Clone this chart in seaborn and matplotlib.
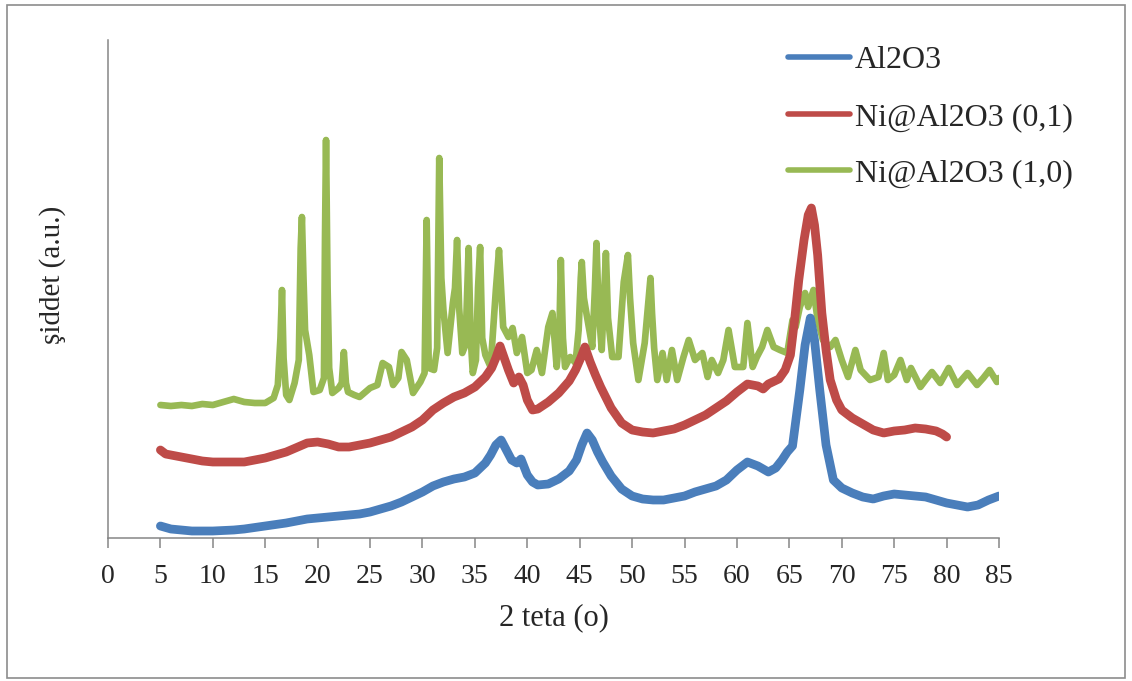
import numpy as np
import pandas as pd
import matplotlib
matplotlib.use("Agg")
import matplotlib.pyplot as plt
from matplotlib.patches import Rectangle
import seaborn as sns

# ---------------- data ----------------
series_names = ["Al2O3", "Ni@Al2O3 (0,1)", "Ni@Al2O3 (1,0)"]

al2o3_x = [5, 6, 7, 8, 10, 12, 13, 15, 17, 19, 20, 22, 24, 25, 26, 27, 28, 29, 30, 31,
           32, 33, 34, 35, 36, 36.5, 37, 37.5, 38, 38.5, 39, 39.4, 40, 40.5, 41, 42, 43, 44,
           44.7, 45.2, 45.7, 46.2, 46.7, 47.2, 48, 49, 50, 51, 52, 53, 54, 55, 56, 57, 58,
           59, 60, 61, 62, 63, 63.7, 64.3, 64.8, 65.3, 66, 66.5, 67.0, 67.4, 67.9, 68.5,
           69.2, 70, 71, 72, 73, 74, 75, 76, 77, 78, 79, 80, 81, 82, 83, 84, 85]
al2o3_y = [12, 9, 8, 7, 7, 8, 9, 12, 15, 19, 20, 22, 24, 26, 29, 32, 36, 41, 46, 52,
           56, 59, 61, 65, 75, 83, 93, 98, 88, 78, 75, 79, 63, 56, 53, 54, 59, 67,
           78, 93, 105, 98, 86, 76, 62, 49, 42, 39, 38, 38, 40, 42, 46, 49, 52,
           58, 68, 76, 72, 66, 70, 78, 86, 92, 148, 193, 220, 198, 148, 93,
           58, 50, 45, 41, 39, 42, 44, 43, 42, 41, 38, 35, 33, 31, 33, 38, 42]

ni01_x = [5, 5.5, 7, 9, 10, 13, 15, 17, 19, 20, 21, 22, 23, 25, 27, 29, 30, 31, 32, 33,
          34, 35, 36, 36.6, 37, 37.4, 37.8, 38.2, 38.7, 39.2, 39.6, 40, 40.5, 41, 42, 43,
          44, 44.6, 45.1, 45.5, 46, 46.5, 47, 48, 49, 50, 51, 52, 53, 54, 55, 56, 57, 58,
          59, 60, 61, 62, 62.5, 63, 64, 64.6, 65.1, 65.5, 65.9, 66.4, 66.8, 67.1, 67.4,
          67.7, 68.1, 68.5, 68.9, 69.5, 70, 71, 72, 73, 74, 75, 76, 77, 78, 79, 79.6, 80]
ni01_y = [88, 84, 81, 77, 76, 76, 80, 86, 95, 96, 94, 91, 91, 95, 101, 111, 118, 128, 135, 141,
          145, 151, 161, 170, 180, 192, 180, 168, 155, 161, 153, 138, 128, 129, 136, 145,
          157, 168, 180, 191, 176, 163, 151, 130, 115, 108, 106, 105, 107, 109, 113, 118, 123, 130,
          137, 146, 154, 152, 149, 154, 159, 168, 183, 218, 258, 298, 323, 330, 313,
          283, 225, 188, 158, 138, 128, 120, 114, 108, 105, 107, 108, 110, 109, 107, 104, 101]

ni10_x = [5, 6, 7, 8, 9, 10, 11, 12, 13, 14, 15, 15.8, 16.2, 16.45, 16.6, 16.75, 17.0, 17.3,
          17.8, 18.2, 18.38, 18.5, 18.65, 18.8, 19.2, 19.6, 20.2, 20.6, 20.7, 20.8, 20.95,
          21.1, 21.4, 22.0, 22.3, 22.5, 22.7, 22.9, 23.5, 24,
          25, 25.7, 26.2, 26.8, 27.2, 27.7, 28.0, 28.5, 29.1, 29.8, 30.2, 30.4, 30.6, 31.1,
          31.4, 31.6, 31.8, 32.0, 32.4, 32.9, 33.1, 33.3, 33.5, 33.8, 34.1, 34.3, 34.4, 34.6,
          34.8, 35.1, 35.3, 35.5, 35.7, 36.0, 36.5, 37.0, 37.3, 37.5, 37.7, 38.2, 38.6, 39.0,
          39.5, 40.0, 40.4, 40.9, 41.4, 42.0, 42.4, 42.8, 43.05, 43.2, 43.4, 43.6, 44.1, 44.6,
          44.9, 45.1, 45.2, 45.4, 45.7, 46.2, 46.45, 46.6, 46.8, 47.1, 47.35, 47.5, 47.7, 48.1,
          48.7, 49.2, 49.6, 49.8, 50.1, 50.6, 51.2, 51.75, 51.9, 52.1, 52.4, 52.9, 53.3, 53.8,
          54.3, 54.9, 55.4, 56.0, 56.7, 57.2,
          57.6, 58.2, 58.7, 59.2, 59.8, 60.6, 61.0, 61.5, 61.9, 62.4, 62.9, 63.5, 64.1, 64.8,
          65.3, 65.6, 66.0, 66.5, 66.8, 67.3, 67.7, 68.2, 68.9, 69.4, 70.0, 70.6, 71.3, 71.8,
          72.7, 73.5, 74.0, 74.4, 75.0, 75.6, 76.2, 76.6, 77.5, 78.0, 78.6, 79.4, 80.2, 81.0,
          82.0, 82.9, 83.5, 84.1, 84.8, 85]
ni10_y = [133, 132, 133, 132, 134, 133, 136, 139, 136, 135, 135, 140, 153, 200, 248, 180, 143, 138,
          155, 178, 290, 321, 260, 208, 183, 146, 148, 160, 300, 398, 250,
          170, 145, 150, 155, 186, 155, 146, 143, 141,
          150, 153, 175, 171, 153, 160, 186, 178, 145, 156, 165, 318, 170, 168,
          190, 380, 260, 228, 185, 235, 250, 298, 230, 185, 193, 260, 290, 200,
          165, 178, 250, 291, 200, 183, 171, 248, 288, 250, 211, 201, 210, 185,
          201, 165, 168, 188, 165, 211, 225, 171, 200, 278, 200, 171, 181, 175,
          208, 260, 276, 240, 221, 191, 250, 295, 230, 188, 250, 285, 220, 181,
          181, 256, 283, 240, 195, 158, 195, 260, 225, 190, 158, 185, 158, 188,
          158, 181, 198, 178, 185, 161,
          178, 165, 178, 208, 171, 171, 215, 171, 181, 191, 208, 191, 188, 185,
          218, 211, 231, 245, 231, 248, 218, 198, 191, 198, 178, 161, 188, 168,
          158, 161, 185, 158, 163, 178, 158, 170, 151, 158, 166, 155, 170, 153,
          165, 153, 160, 168, 156, 160]

x_ticks = list(range(0, 90, 5))
x_label = "2 teta (o)"
y_label = "şiddet (a.u.)"

colors = {"Al2O3": "#4A7EBB", "Ni@Al2O3 (0,1)": "#BE4B48", "Ni@Al2O3 (1,0)": "#98B954"}

frames = []
for name, xs, ys in zip(series_names, [al2o3_x, ni01_x, ni10_x], [al2o3_y, ni01_y, ni10_y]):
    frames.append(pd.DataFrame({"x": xs, "y": ys, "series": name}))
df = pd.concat(frames, ignore_index=True)

# ---------------- styling ----------------
sns.set_style("white")
plt.rcParams["font.family"] = ["Liberation Serif", "DejaVu Serif"]

W, H = 1132, 681
fig = plt.figure(figsize=(W / 100, H / 100), dpi=100)
ax = fig.add_axes([108 / W, 1 - 538 / H, (999 - 108) / W, (538 - 40) / H])

widths = {"Al2O3": 6.3, "Ni@Al2O3 (0,1)": 6.3, "Ni@Al2O3 (1,0)": 4.8}
zorders = {"Al2O3": 4, "Ni@Al2O3 (0,1)": 3, "Ni@Al2O3 (1,0)": 2}
for name in series_names:
    sub = df[df["series"] == name]
    sns.lineplot(data=sub, x="x", y="y", ax=ax, color=colors[name], lw=widths[name],
                 sort=False, estimator=None, label=name, zorder=zorders[name],
                 solid_joinstyle="round", solid_capstyle="round")

ax.set_xlim(0, 85)
ax.set_ylim(0, 498)
ax.set_xticks(x_ticks)
ax.set_xticklabels([str(t) for t in x_ticks])
ax.set_yticks([])
ax.tick_params(axis="x", direction="out", length=7, width=1.1, color="#868686",
               labelsize=20, pad=12, bottom=True)
for s in ["top", "right"]:
    ax.spines[s].set_visible(False)
for s in ["left", "bottom"]:
    ax.spines[s].set_color("#868686")
    ax.spines[s].set_linewidth(1.1)

ax.set_xlabel(x_label, fontsize=22, labelpad=10)
ax.set_ylabel(y_label, fontsize=21)
ax.yaxis.set_label_coords((66 - 108) / 891, (538 - 275) / 498)

handles, labels = ax.get_legend_handles_labels()
leg = ax.legend(handles, labels, loc="upper left", bbox_to_anchor=(788 / W, 1 - 46 / H),
                bbox_transform=fig.transFigure, frameon=False, fontsize=23,
                handlelength=1.95, handletextpad=0.15, labelspacing=0.85,
                borderpad=0, borderaxespad=0)
for lh in leg.get_lines():
    lh.set_linewidth(4.0)

fig.patches.append(Rectangle((7 / W, 1 - 678 / H), (1125 - 7) / W, (678 - 5) / H,
                             transform=fig.transFigure, fill=False,
                             edgecolor="#8c8c8c", lw=1.2))

fig.savefig("out.png", dpi=100)
